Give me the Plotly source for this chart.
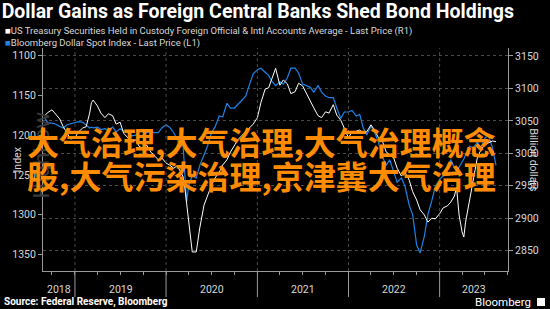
import plotly.graph_objects as go
import pandas as pd

dates = ["2018-09-01","2018-09-15","2018-10-01","2018-10-15","2018-11-01","2018-11-15","2018-12-01","2018-12-15",
"2019-01-01","2019-01-15","2019-02-01","2019-02-15","2019-03-01","2019-03-08","2019-03-15","2019-04-01","2019-04-15",
"2019-05-01","2019-05-15","2019-06-01","2019-06-15","2019-07-01","2019-07-15","2019-08-01","2019-08-15","2019-09-01",
"2019-09-15","2019-10-01","2019-10-15","2019-11-01","2019-11-15","2019-12-01","2019-12-15",
"2020-01-01","2020-01-15","2020-02-01","2020-02-15","2020-03-01","2020-03-08","2020-03-15","2020-03-23","2020-04-01",
"2020-04-15","2020-05-01","2020-05-15","2020-06-01","2020-06-15","2020-07-01","2020-07-15","2020-08-01","2020-08-15",
"2020-09-01","2020-09-15","2020-10-01","2020-10-15","2020-11-01","2020-11-15","2020-12-01","2020-12-15",
"2021-01-01","2021-01-15","2021-02-01","2021-02-15","2021-03-01","2021-03-15","2021-04-01","2021-04-15","2021-05-01",
"2021-05-15","2021-06-01","2021-06-15","2021-07-01","2021-07-15","2021-08-01","2021-08-15","2021-09-01","2021-09-15",
"2021-10-01","2021-10-15","2021-11-01","2021-11-15","2021-12-01","2021-12-15",
"2022-01-01","2022-01-15","2022-02-01","2022-02-15","2022-03-01","2022-03-15","2022-04-01","2022-04-15","2022-05-01",
"2022-05-15","2022-06-01","2022-06-15","2022-07-01","2022-07-15","2022-08-01","2022-08-15","2022-09-01","2022-09-15",
"2022-10-01","2022-10-15","2022-11-01","2022-11-15","2022-12-01","2022-12-15",
"2023-01-01","2023-01-15","2023-02-01","2023-02-15","2023-03-01","2023-03-10","2023-03-20","2023-04-01","2023-04-08",
"2023-04-15","2023-05-01","2023-05-15","2023-06-01","2023-06-15","2023-07-01","2023-07-15","2023-08-01","2023-08-15"]

dollar_index = [1178,1185,1185,1186,1189,1191,1187,1186,
1184,1183,1184,1187,1191,1190,1191,1190,1193,
1192,1194,1190,1196,1192,1195,1197,1201,1200,
1202,1200,1197,1196,1197,1197,1191,
1187,1190,1197,1206,1215,1206,1240,1284,1263,
1251,1254,1238,1225,1214,1197,1190,1176,1177,
1160,1166,1166,1161,1156,1151,1136,1123,
1118,1116,1121,1125,1133,1138,1133,1136,1128,
1116,1116,1122,1136,1138,1140,1146,1138,1146,
1151,1153,1153,1166,1179,1171,
1171,1169,1176,1174,1191,1200,1189,1196,1209,
1226,1238,1231,1246,1259,1254,1264,1288,1300,
1338,1348,1327,1300,1282,1264,
1256,1251,1241,1231,1241,1246,1240,1234,1230,
1225,1214,1216,1209,1216,1204,1200,1216,1238]

treasury_holdings = [3058,3063,3067,3061,3053,3041,3031,3022,
3024,3033,3039,3041,3062,3078,3082,3073,3062,
3055,3061,3058,3045,3048,3031,3024,3018,3021,
3011,3007,3013,3002,2996,2990,2993,
2985,2982,2977,2981,2971,2965,2951,2925,2890,
2848,2848,2885,2920,2936,2951,2962,2971,2982,
2990,3002,3013,3021,3028,3033,3039,3045,
3055,3078,3099,3101,3116,3131,3105,3113,3107,
3092,3095,3108,3104,3093,3079,3070,3058,3055,
3064,3062,3075,3059,3051,3039,
3024,3033,3034,3036,3031,3033,3044,3036,3024,
3021,3002,2998,2993,2977,2965,2971,2959,2941,
2928,2913,2905,2894,2900,2899,
2907,2916,2919,2925,2934,2947,2905,2879,2871,
2894,2928,2956,2993,3005,3013,3016,3019,3018]

years = ["2018","2019","2020","2021","2022","2023"]
left_ticks = [1100,1150,1200,1250,1300,1350]
right_ticks = [2850,2900,2950,3000,3050,3100,3150]

x_start, x_end = "2018-08-26", "2023-10-02"

BLUE = "#1e82e6"
GRID = "#4a4a4a"
AXIS = "#9a9a9a"
TXT = "#d8d8d8"
FONT = "Roboto"

fig = go.Figure()
fig.add_trace(go.Scatter(x=dates, y=dollar_index, mode="lines", yaxis="y",
                         line=dict(color=BLUE, width=1.2), name="Bloomberg Dollar Spot Index"))
fig.add_trace(go.Scatter(x=dates, y=treasury_holdings, mode="lines", yaxis="y2",
                         line=dict(color="#ffffff", width=1), name="US Treasury Securities"))

L, R, T, B = 43, 42, 48, 38
W, H = 550, 309
pw, ph = W - L - R, H - T - B

def px(xp):
    return (xp - L) / pw

def py(yp):
    return (H - B - yp) / ph

fig.update_layout(
    width=W, height=H, margin=dict(l=L, r=R, t=T, b=B),
    paper_bgcolor="#000000", plot_bgcolor="#000000",
    showlegend=False,
    font=dict(family=FONT, color=TXT, size=10),
    xaxis=dict(type="date", range=[x_start, x_end], showgrid=False, zeroline=False,
               tickmode="linear", tick0="2018-10-01", dtick="M3", ticks="outside", ticklen=3,
               tickcolor=AXIS, showticklabels=False, showline=True, linecolor=AXIS, linewidth=1),
    yaxis=dict(range=[1370.7, 1090.6], tickmode="array", tickvals=left_ticks,
               ticks="outside", ticklen=4, tickcolor=AXIS, showgrid=False, zeroline=False,
               showline=True, linecolor=AXIS, linewidth=1, tickfont=dict(size=10.5, color=TXT)),
    yaxis2=dict(range=[2818.7, 3162.3], overlaying="y", side="right", tickmode="array",
                tickvals=right_ticks, ticks="outside", ticklen=4, tickcolor=AXIS,
                showgrid=True, gridcolor=GRID, griddash="dot", gridwidth=1, zeroline=False,
                showline=True, linecolor=AXIS, linewidth=1, tickfont=dict(size=10.5, color=TXT)),
    title=dict(text="<b>Dollar Gains as Foreign Central Banks Shed Bond Holdings</b>",
               x=0.003, xanchor="left", xref="container", y=1 - 11 / H, yanchor="middle",
               yref="container", font=dict(family=FONT, size=19.5, color="#ffffff")),
)

rs, re_ = pd.Timestamp(x_start), pd.Timestamp(x_end)
shapes = []
annotations = []
for yr in years:
    ys = pd.Timestamp(f"{yr}-01-01")
    ye = pd.Timestamp(f"{int(yr)+1}-01-01")
    if rs < ys < re_:
        shapes.append(dict(type="line", xref="x", yref="paper", x0=ys, x1=ys, y0=0, y1=1,
                           line=dict(color=GRID, width=1, dash="dot")))
        shapes.append(dict(type="line", xref="x", yref="paper", x0=ys, x1=ys, y0=0, y1=-0.117,
                           line=dict(color=AXIS, width=1)))
    a, b = max(ys, rs), min(ye, re_)
    mid = a + (b - a) / 2
    annotations.append(dict(x=mid, y=py(289), xref="x", yref="paper", text=yr, showarrow=False,
                            xanchor="center", yanchor="middle", font=dict(size=10.5, color=TXT)))

annotations += [
    dict(x=px(3), y=py(31), xref="paper", yref="paper", xanchor="left", yanchor="middle", showarrow=False,
         text='<span style="color:#ffffff">■</span>US Treasury Securities Held in Custody Foreign Official & Intl Accounts Average - Last Price (R1)',
         font=dict(size=9.5, color=TXT)),
    dict(x=px(3), y=py(43), xref="paper", yref="paper", xanchor="left", yanchor="middle", showarrow=False,
         text=f'<span style="color:{BLUE}">■</span>Bloomberg Dollar Spot Index - Last Price (L1)',
         font=dict(size=9.5, color=TXT)),
    dict(x=px(8), y=py(160), xref="paper", yref="paper", textangle=-90, showarrow=False,
         text="Index", font=dict(size=10.5, color=TXT)),
    dict(x=px(542), y=py(160), xref="paper", yref="paper", textangle=90, showarrow=False,
         text="Billion dollars", font=dict(size=10.5, color=TXT)),
    dict(x=px(26), y=py(155), xref="paper", yref="paper", textangle=-90, showarrow=False,
         text="HighLow", font=dict(size=22, color="#3a3a3a")),
    dict(x=px(2), y=py(302), xref="paper", yref="paper", xanchor="left", yanchor="middle", showarrow=False,
         text="<b>Source: Federal Reserve, Bloomberg</b>", font=dict(size=10, color="#ffffff")),
    dict(x=px(533), y=py(302), xref="paper", yref="paper", xanchor="right", yanchor="middle", showarrow=False,
         text="Bloomberg", font=dict(size=11.5, color="#ffffff")),
    dict(x=px(25), y=py(141), xref="paper", yref="paper", xanchor="left", yanchor="middle", showarrow=False,
         text="<b>大气治理,大气治理,大气治理概念</b>",
         font=dict(family="Noto Sans CJK SC", size=32, color="#ff8c00")),
    dict(x=px(25), y=py(175), xref="paper", yref="paper", xanchor="left", yanchor="middle", showarrow=False,
         text="<b>股,大气污染治理,京津冀大气治理</b>",
         font=dict(family="Noto Sans CJK SC", size=32, color="#ff8c00")),
]
shapes.append(dict(type="rect", xref="paper", yref="paper", x0=px(537), x1=px(545), y0=py(306), y1=py(298),
                   fillcolor="#ffffff", line=dict(width=0)))

fig.update_layout(shapes=shapes, annotations=annotations)
fig.write_html("out.html")
